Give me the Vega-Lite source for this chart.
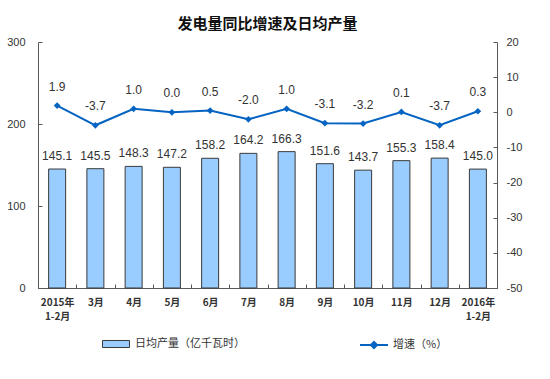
{
  "$schema": "https://vega.github.io/schema/vega-lite/v6.json",
  "width": 459,
  "height": 246,
  "autosize": "none",
  "padding": {"left": 38, "top": 42, "right": 53, "bottom": 91},
  "background": "white",
  "title": {
    "text": "发电量同比增速及日均产量",
    "font": "Noto Sans CJK SC",
    "fontSize": 15,
    "fontWeight": "bold",
    "color": "#111111",
    "anchor": "middle",
    "offset": 4
  },
  "config": {
    "view": {"stroke": null},
    "axis": {"grid": false},
    "locale": {
      "number": {
        "decimal": ".",
        "thousands": ",",
        "grouping": [3],
        "currency": ["", ""],
        "minus": "-"
      }
    }
  },
  "data": {
    "values": [
      {"month": "2015年\n1-2月", "output": 145.1, "growth": 1.9},
      {"month": "3月", "output": 145.5, "growth": -3.7},
      {"month": "4月", "output": 148.3, "growth": 1.0},
      {"month": "5月", "output": 147.2, "growth": 0.0},
      {"month": "6月", "output": 158.2, "growth": 0.5},
      {"month": "7月", "output": 164.2, "growth": -2.0},
      {"month": "8月", "output": 166.3, "growth": 1.0},
      {"month": "9月", "output": 151.6, "growth": -3.1},
      {"month": "10月", "output": 143.7, "growth": -3.2},
      {"month": "11月", "output": 155.3, "growth": 0.1},
      {"month": "12月", "output": 158.4, "growth": -3.7},
      {"month": "2016年\n1-2月", "output": 145.0, "growth": 0.3}
    ]
  },
  "encoding": {
    "x": {
      "field": "month",
      "type": "nominal",
      "sort": null,
      "scale": {"paddingInner": 0, "paddingOuter": 0},
      "axis": {
        "title": null,
        "labelAngle": 0,
        "labelExpr": "split(datum.label, '\\n')",
        "labelFont": "Noto Sans CJK SC",
        "labelFontSize": 10,
        "labelFontWeight": "bold",
        "labelColor": "#333333",
        "labelPadding": 13,
        "labelBaseline": "top",
        "labelLineHeight": 14,
        "tickBand": "extent",
        "tickSize": -4,
        "tickColor": "#595959",
        "domainColor": "#595959"
      }
    }
  },
  "layer": [
    {
      "encoding": {
        "y": {
          "field": "output",
          "type": "quantitative",
          "scale": {"domain": [0, 300], "nice": false},
          "axis": {
            "orient": "left",
            "title": null,
            "values": [0, 100, 200, 300],
            "tickSize": -4,
            "tickColor": "#595959",
            "domainColor": "#595959",
            "labelFont": "Liberation Sans",
            "labelFontSize": 11,
            "labelColor": "#333333",
            "labelPadding": 17
          }
        }
      },
      "layer": [
        {
          "mark": {"type": "bar", "size": 17, "stroke": "#3a3a3a", "strokeWidth": 1},
          "encoding": {
            "fill": {
              "datum": "日均产量（亿千瓦时）",
              "scale": {"range": ["#99CCFF"]},
              "legend": {
                "title": null,
                "orient": "none",
                "legendX": 64,
                "legendY": 288,
                "padding": 0,
                "symbolType": "M-1,-0.26H1V0.26H-1Z",
                "symbolSize": 729,
                "symbolStrokeColor": "#3a3a3a",
                "symbolStrokeWidth": 1,
                "labelFont": "Noto Sans CJK SC",
                "labelFontSize": 11,
                "labelColor": "#333333",
                "labelOffset": 5
              }
            }
          }
        },
        {
          "mark": {"type": "text", "dy": -13, "font": "Liberation Sans", "fontSize": 12, "color": "#333333"},
          "encoding": {"text": {"field": "output", "type": "quantitative", "format": ".1f"}}
        }
      ]
    },
    {
      "encoding": {
        "y": {
          "field": "growth",
          "type": "quantitative",
          "scale": {"domain": [-50, 20], "nice": false},
          "axis": {
            "orient": "right",
            "title": null,
            "values": [-50, -40, -30, -20, -10, 0, 10, 20],
            "tickSize": -4,
            "tickColor": "#595959",
            "domainColor": "#595959",
            "labelFont": "Liberation Sans",
            "labelFontSize": 11,
            "labelColor": "#333333",
            "labelPadding": 13
          }
        }
      },
      "layer": [
        {
          "mark": {"type": "line", "strokeWidth": 2},
          "encoding": {
            "stroke": {
              "datum": "增速（%）",
              "scale": {"range": ["#0563C1"]},
              "legend": {
                "title": null,
                "orient": "none",
                "legendX": 321,
                "legendY": 288,
                "padding": 0,
                "symbolType": "M-1,0H1M0,-0.22L0.22,0L0,0.22L-0.22,0Z",
                "symbolSize": 784,
                "symbolStrokeWidth": 2,
                "symbolFillColor": "#0563C1",
                "labelFont": "Noto Sans CJK SC",
                "labelFontSize": 11,
                "labelColor": "#333333",
                "labelOffset": 4
              }
            }
          }
        },
        {
          "mark": {"type": "point", "shape": "diamond", "filled": true, "size": 45, "color": "#0563C1", "opacity": 1}
        },
        {
          "mark": {"type": "text", "dy": -19, "font": "Liberation Sans", "fontSize": 12, "color": "#333333"},
          "encoding": {"text": {"field": "growth", "type": "quantitative", "format": ".1f"}}
        }
      ]
    }
  ],
  "resolve": {"scale": {"y": "independent"}}
}
